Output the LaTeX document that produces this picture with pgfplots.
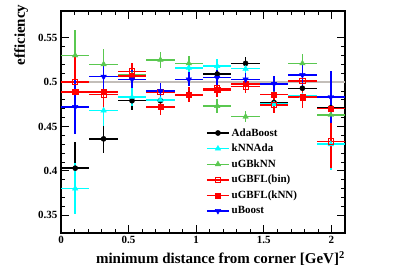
\documentclass[border=0pt]{standalone}
\usepackage{fontspec}
\setmainfont{Liberation Serif}
\usepackage{pgfplots}
\usepackage{pgfplotstable}
\pgfplotsset{compat=1.18}
\definecolor{rgreen}{RGB}{90,200,80}
\definecolor{rcyan}{RGB}{0,255,255}
\definecolor{rgray}{RGB}{195,190,185}

\pgfplotstableread{
x ex y ey
0.105 0.105 0.403 0.029
0.315 0.105 0.436 0.016
0.525 0.105 0.479 0.010
0.735 0.105 0.479 0.008
0.945 0.105 0.486 0.008
1.155 0.105 0.509 0.008
1.365 0.105 0.521 0.007
1.575 0.105 0.477 0.008
1.785 0.105 0.493 0.011
1.995 0.105 0.471 0.028
}\ada
\pgfplotstableread{
x ex y ey
0.105 0.105 0.380 0.029
0.315 0.105 0.468 0.017
0.525 0.105 0.483 0.010
0.735 0.105 0.480 0.009
0.945 0.105 0.516 0.008
1.155 0.105 0.518 0.008
1.365 0.105 0.515 0.007
1.575 0.105 0.475 0.009
1.785 0.105 0.484 0.012
1.995 0.105 0.430 0.029
}\knnada
\pgfplotstableread{
x ex y ey
0.105 0.105 0.530 0.029
0.315 0.105 0.520 0.017
0.525 0.105 0.508 0.010
0.735 0.105 0.525 0.009
0.945 0.105 0.521 0.008
1.155 0.105 0.473 0.008
1.365 0.105 0.461 0.006
1.575 0.105 0.486 0.009
1.785 0.105 0.521 0.011
1.995 0.105 0.463 0.028
}\ugbknn
\pgfplotstableread{
x ex y ey
0.105 0.105 0.500 0.029
0.315 0.105 0.486 0.017
0.525 0.105 0.512 0.010
0.735 0.105 0.489 0.009
0.945 0.105 0.485 0.008
1.155 0.105 0.493 0.008
1.365 0.105 0.495 0.007
1.575 0.105 0.474 0.009
1.785 0.105 0.501 0.012
1.995 0.105 0.433 0.030
}\ugbflbin
\pgfplotstableread{
x ex y ey
0.105 0.105 0.489 0.029
0.315 0.105 0.489 0.017
0.525 0.105 0.507 0.010
0.735 0.105 0.472 0.009
0.945 0.105 0.486 0.008
1.155 0.105 0.491 0.008
1.365 0.105 0.498 0.007
1.575 0.105 0.486 0.009
1.785 0.105 0.483 0.012
1.995 0.105 0.470 0.029
}\ugbflknn
\pgfplotstableread{
x ex y ey
0.105 0.105 0.472 0.030
0.315 0.105 0.506 0.017
0.525 0.105 0.503 0.010
0.735 0.105 0.490 0.009
0.945 0.105 0.503 0.008
1.155 0.105 0.505 0.008
1.365 0.105 0.503 0.007
1.575 0.105 0.498 0.009
1.785 0.105 0.508 0.012
1.995 0.105 0.483 0.029
}\uboost

\begin{document}
\begin{tikzpicture}
\useasboundingbox (0,0) rectangle (407pt,276pt);
\begin{axis}[
  at={(61pt,43pt)}, anchor=south west,
  scale only axis, width=284pt, height=222pt,
  xmin=0, xmax=2.1, ymin=0.33, ymax=0.58,
  xtick={0,0.5,1,1.5,2}, ytick={0.35,0.4,0.45,0.5,0.55},
  minor x tick num=4, minor y tick num=4,
  major tick length=8pt, minor tick length=4pt,
  axis line style={line width=1.2pt},
  every tick/.style={line width=0.8pt, black},
  tick label style={font=\fontsize{11}{11}\selectfont\bfseries},
  /pgf/number format/assume math mode=true,
  xlabel={minimum distance from corner [GeV]\textsuperscript{2}},
  ylabel={efficiency},
  label style={font=\fontsize{15}{15}\selectfont\bfseries},
  xlabel style={at={(axis description cs:1,-0.082)}, anchor=north east, inner sep=0pt},
  ylabel style={at={(axis description cs:-0.14,1.03)}, anchor=east, inner sep=0pt},
  legend style={draw=none, fill=none, at={(0.5,0.49)}, anchor=north west,
    font=\fontsize{11}{11}\selectfont\bfseries, row sep=2.5pt,
    cells={anchor=west}},
  legend image code/.code={%
    \draw[#1, sharp plot, mark=none, line width=1.5pt] plot coordinates {(0pt,0pt)(22pt,0pt)};
    \draw[#1, only marks] plot coordinates {(11pt,0pt)};},
  eb/.style={only marks, error bars/.cd, x dir=both, x explicit, y dir=both, y explicit,
    error mark=none, error bar style={line width=1.5pt}},
]
\addplot[rgray, line width=1.5pt, forget plot] coordinates {(0,0.5) (2.1,0.5)};
\addplot[black, mark=*, mark size=2.6pt, eb] table[x=x, y=y, x error=ex, y error=ey] {\ada};
\addlegendentry{AdaBoost}
\addplot[rcyan, mark=triangle*, mark size=3.2pt, eb] table[x=x, y=y, x error=ex, y error=ey] {\knnada};
\addlegendentry{kNNAda}
\addplot[rgreen, mark=triangle*, mark size=3.2pt, eb] table[x=x, y=y, x error=ex, y error=ey] {\ugbknn};
\addlegendentry{uGBkNN}
\addplot[red, mark=square, mark size=2.6pt, mark options={line width=1pt, fill=white}, eb] table[x=x, y=y, x error=ex, y error=ey] {\ugbflbin};
\addlegendentry{uGBFL(bin)}
\addplot[red, mark=square*, mark size=2.6pt, eb] table[x=x, y=y, x error=ex, y error=ey] {\ugbflknn};
\addlegendentry{uGBFL(kNN)}
\addplot[blue, mark=triangle*, mark options={rotate=180}, mark size=3.2pt, eb] table[x=x, y=y, x error=ex, y error=ey] {\uboost};
\addlegendentry{uBoost}
\end{axis}
\end{tikzpicture}
\end{document}
